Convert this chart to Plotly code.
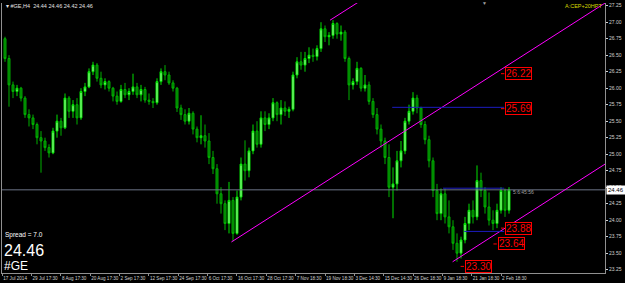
import plotly.graph_objects as go

# ---------------- data ----------------
opens = [26.75,26.45,26.05,25.95,26.00,25.85,25.60,25.55,25.45,25.25,25.20,25.10,25.02,25.35,25.50,25.40,25.85,25.65,25.75,25.55,
         25.95,26.02,26.25,26.35,26.15,26.05,26.10,26.00,25.88,25.80,25.98,25.90,25.95,26.02,25.90,25.98,25.82,25.80,25.78,26.10,
         26.25,26.20,26.08,26.00,25.70,25.60,25.50,25.62,25.38,25.25,25.28,25.20,24.95,24.78,24.40,24.25,23.95,24.30,23.80,24.35,
         24.85,24.75,25.05,25.35,25.15,25.55,25.45,25.55,25.78,25.60,25.70,25.65,25.68,26.20,26.40,26.35,26.45,26.50,26.48,26.60,
         26.90,26.78,26.80,26.98,26.82,26.85,26.45,26.05,26.10,26.30,26.00,26.05,25.80,25.60,25.38,25.20,24.95,24.50,24.55,24.90,
         25.05,25.50,25.65,25.85,25.70,25.45,25.22,24.90,24.45,24.10,24.40,24.05,23.90,23.65,23.50,23.70,23.95,24.15,24.05,24.60,
         24.45,24.20,24.00,23.95,24.15,24.45,24.15]
highs = [26.78,26.50,26.10,26.05,26.02,25.88,25.68,25.60,25.48,25.35,25.25,25.15,25.40,25.60,25.55,25.92,25.88,25.82,25.85,26.00,
         26.08,26.30,26.40,26.38,26.25,26.15,26.12,26.02,25.95,26.05,26.08,26.00,26.22,26.08,26.05,26.02,25.92,25.85,26.15,26.30,
         26.35,26.25,26.12,26.02,25.75,25.68,25.70,25.65,25.42,25.59,25.45,25.32,25.05,24.85,24.50,24.30,24.58,24.35,24.45,24.95,
         25.21,25.10,25.45,25.50,25.65,25.65,25.62,25.85,25.80,25.82,25.80,25.72,26.25,26.47,26.55,26.55,26.62,26.60,26.65,27.00,
         26.95,26.85,27.03,27.00,26.95,26.88,26.48,26.15,26.40,26.32,26.20,26.10,25.85,25.70,25.45,25.25,25.15,24.80,25.05,25.20,
         25.55,25.75,25.94,25.90,25.72,25.50,25.28,24.95,24.55,24.48,24.48,24.30,24.00,23.80,23.75,24.05,24.25,24.30,24.83,24.72,
         24.50,24.42,24.15,24.25,24.50,24.48,24.50]
lows = [26.40,25.72,25.85,25.88,25.80,25.55,25.42,25.38,25.15,24.72,25.05,24.95,25.00,25.25,25.28,25.38,25.55,25.55,25.45,25.52,
        25.88,26.00,26.20,26.10,26.00,25.98,25.95,25.80,25.75,25.78,25.85,25.82,25.90,25.85,25.80,25.78,25.75,25.70,25.75,26.05,
        26.12,26.05,25.95,25.64,25.52,25.45,25.45,25.30,25.18,25.15,25.10,24.85,24.70,24.25,24.10,23.85,23.80,23.68,23.78,24.30,
        24.60,24.65,25.00,25.10,25.10,25.35,25.38,25.50,25.50,25.45,25.58,25.55,25.65,26.15,26.28,26.25,26.38,26.40,26.42,26.55,
        26.70,26.65,26.75,26.75,26.72,26.40,25.82,25.98,26.05,25.95,25.95,25.75,25.55,25.30,25.10,24.85,24.35,24.03,24.45,24.80,
        25.00,25.45,25.60,25.62,25.40,25.15,24.80,24.35,24.00,24.00,23.95,23.80,23.55,23.37,23.42,23.65,23.85,23.95,24.00,24.35,
        24.10,23.92,23.85,23.88,24.10,24.05,24.10]
closes = [26.45,26.05,25.95,26.00,25.85,25.60,25.55,25.45,25.25,25.20,25.10,25.02,25.35,25.50,25.40,25.85,25.65,25.75,25.55,25.95,
          26.02,26.25,26.35,26.15,26.05,26.10,26.00,25.88,25.80,25.98,25.90,25.95,26.02,25.90,25.98,25.82,25.80,25.78,26.10,26.25,
          26.20,26.08,26.00,25.70,25.60,25.50,25.62,25.38,25.25,25.28,25.20,24.95,24.78,24.40,24.25,23.95,24.30,23.80,24.35,24.85,
          24.75,25.05,25.35,25.15,25.55,25.45,25.55,25.78,25.60,25.70,25.65,25.68,26.20,26.40,26.35,26.45,26.50,26.48,26.60,26.90,
          26.78,26.80,26.98,26.82,26.85,26.45,26.05,26.10,26.30,26.00,26.05,25.80,25.60,25.38,25.20,24.95,24.50,24.55,24.90,25.05,
          25.50,25.65,25.85,25.70,25.45,25.22,24.90,24.45,24.10,24.40,24.05,23.90,23.65,23.50,23.70,23.95,24.15,24.05,24.60,24.45,
          24.20,24.00,23.95,24.15,24.45,24.15,24.46]

date_labels = ["17 Jul 2014", "29 Jul 17:30", "8 Aug 17:30", "20 Aug 17:30", "2 Sep 17:30", "12 Sep 17:30",
               "24 Sep 17:30", "6 Oct 17:30", "16 Oct 17:30", "28 Oct 17:30", "7 Nov 18:30", "19 Nov 18:30",
               "3 Dec 14:30", "15 Dec 14:30", "26 Dec 18:30", "9 Jan 18:30", "21 Jan 18:30", "2 Feb 18:30"]
price_ticks = [23.25, 23.50, 23.75, 24.00, 24.25, 24.50, 24.75, 25.00, 25.25, 25.50, 25.75, 26.00, 26.25, 26.50, 26.75, 27.00, 27.25]

# channel lines: (bar, price) start -> end
channel_lines = [((56.6, 23.67), (150.0, 27.29)),
                 ((81.25, 27.03), (150.0, 29.69)),
                 ((111.9, 23.37), (150.0, 24.85))]
# blue horizontal levels: (price, start bar, end bar)
blue_levels = [(25.71, 96.8, 124.8), (24.485, 109.5, 124.8), (23.83, 114.8, 124.8)]
# red price labels: (value, label start bar)
red_labels = [(26.22, 125.1), (25.69, 125.1), (23.88, 125.1), (23.64, 123.2), (23.30, 115.0)]

symbol = "#GE"
spread = "7.0"
last_price = closes[-1]

# ---------------- figure ----------------
W, H = 625, 283
ML, MR, MT, MB = 2, 20, 3, 10
X0, X1 = -0.75, 150.0
Y0, Y1 = 23.200, 27.291
FONT = "Liberation Sans"

n = len(closes)
xs = list(range(n))

fig = go.Figure()

# current price line
fig.add_trace(go.Scatter(x=[X0, X1], y=[last_price, last_price], mode="lines",
                         line=dict(color="#6c7486", width=1), hoverinfo="skip", showlegend=False))

fig.add_trace(go.Candlestick(
    x=xs, open=opens, high=highs, low=lows, close=closes,
    increasing=dict(line=dict(color="#00e000", width=1), fillcolor="#b0ffa8"),
    decreasing=dict(line=dict(color="#00b000", width=1), fillcolor="#007000"),
    whiskerwidth=0, showlegend=False))

for (xa, ya), (xb, yb) in channel_lines:
    fig.add_trace(go.Scatter(x=[xa, xb], y=[ya, yb], mode="lines",
                             line=dict(color="#ff00ff", width=1), hoverinfo="skip", showlegend=False))

for lvl, xa, xb in blue_levels:
    fig.add_trace(go.Scatter(x=[xa, xb], y=[lvl, lvl], mode="lines",
                             line=dict(color="#1c1cc0", width=1), hoverinfo="skip", showlegend=False))

shapes = []
annotations = []
for val, xs0 in red_labels:
    shapes.append(dict(type="line", xref="x", yref="y", x0=xs0 - 1.1, x1=xs0 - 0.25, y0=val, y1=val,
                       line=dict(color="#ff0000", width=1)))
    annotations.append(dict(x=xs0, y=val, xref="x", yref="y", text=f"{val:.2f}", showarrow=False,
                            xanchor="left", yanchor="middle", font=dict(family=FONT, size=10, color="#ff0000"),
                            bgcolor="#000000", bordercolor="#ff0000", borderwidth=1, borderpad=0))

def px_x(p):
    return (p - ML) / (W - ML - MR)

def px_y(p):
    return (H - MB - p) / (H - MT - MB)

# right axis current price box
annotations.append(dict(x=1.0, y=last_price, xref="paper", yref="y", text=f"{last_price:.2f}", showarrow=False,
                        xanchor="left", yanchor="middle", xshift=1,
                        font=dict(family=FONT, size=6, color="#000000"),
                        bgcolor="#ffffff", borderpad=1))
# header
annotations.append(dict(x=px_x(4), y=px_y(6), xref="paper", yref="paper", showarrow=False,
                        xanchor="left", yanchor="middle",
                        text="▾ #GE,H4  24.44 24.46 24.42 24.46",
                        font=dict(family=FONT, size=5.5, color="#e0e0e0")))
annotations.append(dict(x=px_x(604), y=px_y(6), xref="paper", yref="paper", showarrow=False,
                        xanchor="right", yanchor="middle", text="A:CEP+20HPT",
                        font=dict(family=FONT, size=5.5, color="#d8d800")))
annotations.append(dict(x=px_x(484), y=px_y(2.5), xref="paper", yref="paper", showarrow=False,
                        xanchor="center", yanchor="middle", text="▼",
                        font=dict(family=FONT, size=5, color="#a0a0a0")))
annotations.append(dict(x=px_x(511), y=px_y(192), xref="paper", yref="paper", showarrow=False,
                        xanchor="left", yanchor="middle", text="5:6:45:56",
                        font=dict(family=FONT, size=5, color="#a0a0a0")))
# bottom-left info
annotations.append(dict(x=px_x(3), y=px_y(235), xref="paper", yref="paper", showarrow=False,
                        xanchor="left", yanchor="middle", text=f"Spread = {spread}",
                        font=dict(family=FONT, size=6.5, color="#ffffff")))
annotations.append(dict(x=px_x(2), y=px_y(250), xref="paper", yref="paper", showarrow=False,
                        xanchor="left", yanchor="middle", text=f"{last_price:.2f}",
                        font=dict(family=FONT, size=16, color="#ffffff")))
annotations.append(dict(x=px_x(2), y=px_y(266), xref="paper", yref="paper", showarrow=False,
                        xanchor="left", yanchor="middle", text=symbol,
                        font=dict(family=FONT, size=12, color="#ffffff")))

tick_pos = [-0.7 + k * 7.337 for k in range(len(date_labels))]

fig.update_layout(
    width=W, height=H,
    margin=dict(l=ML, r=MR, t=MT, b=MB, pad=0),
    paper_bgcolor="#000000", plot_bgcolor="#000000",
    showlegend=False,
    shapes=shapes, annotations=annotations,
    xaxis=dict(range=[X0, X1], rangeslider=dict(visible=False), showgrid=False, zeroline=False,
               tickvals=tick_pos, ticktext=date_labels, ticks="outside", ticklen=2, tickcolor="#909090",
               ticklabelposition="outside right", tickangle=0, ticklabelstandoff=0,
               tickfont=dict(family=FONT, size=4.6, color="#d0d0d0"),
               showline=True, linecolor="#909090", linewidth=1, automargin=False, fixedrange=True),
    yaxis=dict(range=[Y0, Y1], side="right", showgrid=False, zeroline=False,
               tickvals=price_ticks, ticktext=[f"{v:.2f}" for v in price_ticks],
               ticks="outside", ticklen=2, tickcolor="#d0d0d0",
               tickfont=dict(family=FONT, size=5, color="#d0d0d0"),
               showline=True, linecolor="#909090", linewidth=1, mirror=True, automargin=False, fixedrange=True),
)

fig.write_html("out.html")
